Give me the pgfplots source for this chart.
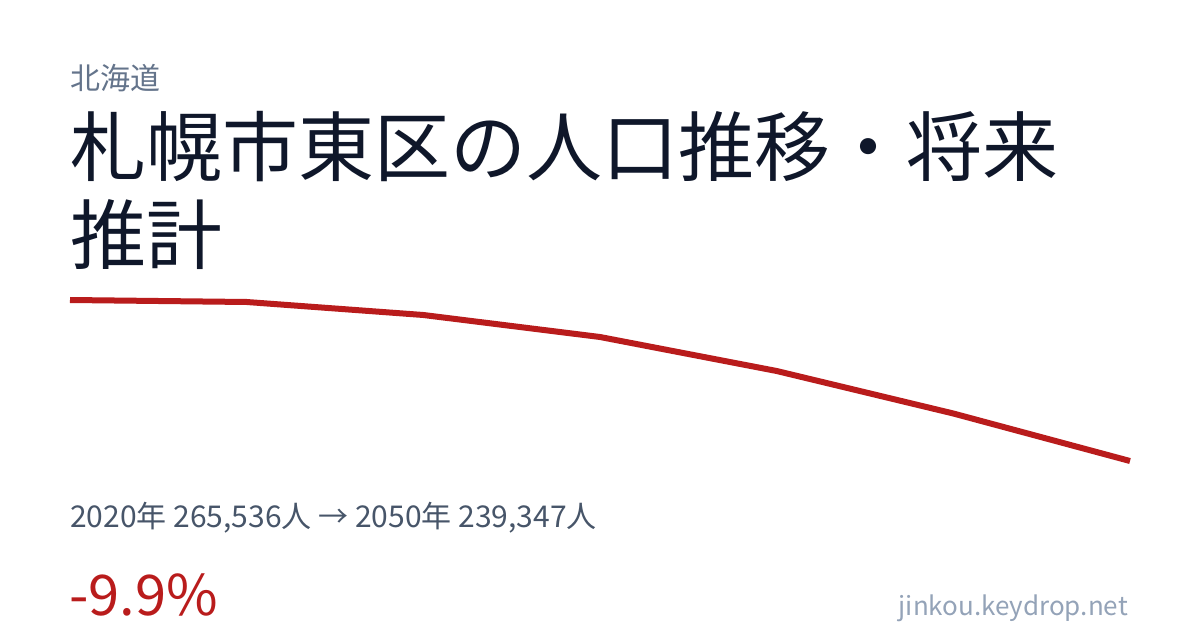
\documentclass[border=0pt]{standalone}
\usepackage{pgfplots}
\pgfplotsset{compat=1.18}
\usepackage{fontspec}
\setmainfont{Noto Sans CJK JP}
\definecolor{titlec}{HTML}{0F172A}
\definecolor{prefc}{HTML}{64748B}
\definecolor{subc}{HTML}{475569}
\definecolor{redc}{HTML}{B91C1C}
\definecolor{urlc}{HTML}{94A3B8}
\begin{document}
\begin{tikzpicture}
\fill[white] (0pt,0pt) rectangle (1200pt,630pt);
% texts (y = 630 - pixel y)
\node[anchor=base west,inner sep=0pt,text=prefc] at (70pt,540pt) {\fontsize{30}{34}\selectfont 北海道};
\node[anchor=base west,inner sep=0pt,text=titlec] at (70pt,454pt) {\fontsize{76}{88}\selectfont 札幌市東区の人口推移・将来};
\node[anchor=base west,inner sep=0pt,text=titlec] at (70pt,366pt) {\fontsize{76}{88}\selectfont 推計};
\node[anchor=base west,inner sep=0pt,text=subc] at (70pt,103pt) {\fontsize{30}{34}\selectfont 2020年 265,536人 → 2050年 239,347人};
\node[anchor=base west,inner sep=0pt,text=redc] at (69pt,15pt) {\fontsize{56}{62}\selectfont -9.9\%};
\node[anchor=base east,inner sep=0pt,text=urlc] at (1128pt,15pt) {\fontsize{26}{30}\selectfont jinkou.keydrop.net};
\begin{axis}[
  at={(70pt,169pt)}, anchor=south west,
  scale only axis, width=1060pt, height=161pt,
  xmin=2020, xmax=2050, ymin=239347, ymax=265536,
  hide axis, clip=false]
\addplot[color=redc, line width=6pt, line join=round, mark=none] coordinates {
(2020,265536) (2025,265211) (2030,263096) (2035,259518) (2040,253987) (2045,247074) (2050,239347)};
\end{axis}
\end{tikzpicture}
\end{document}
